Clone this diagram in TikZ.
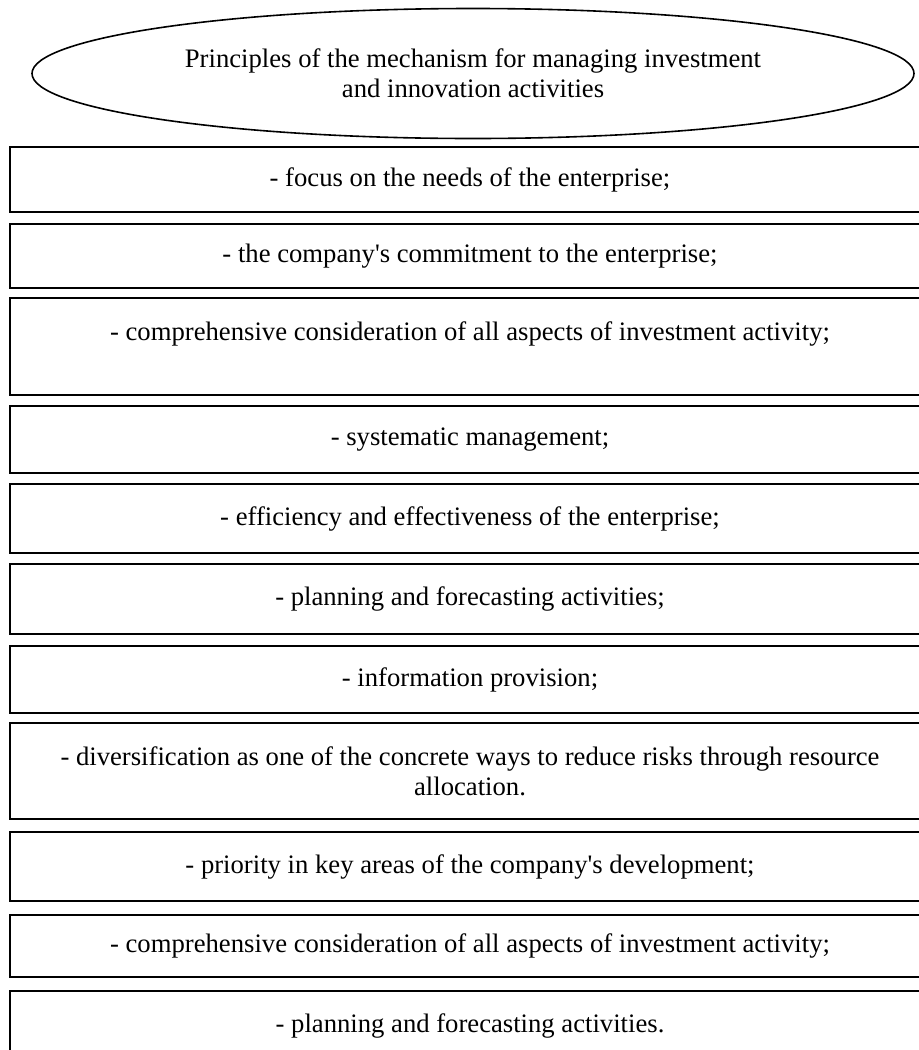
\documentclass[tikz,border=0pt]{standalone}
\usepackage{fontspec}
\setmainfont{Liberation Serif}
\usetikzlibrary{shapes.geometric}
\begin{document}
\begin{tikzpicture}[x=0.75pt,y=-0.75pt,
  txt/.style={font=\fontsize{20pt}{22.5pt}\selectfont, align=center},
  item/.style={txt, draw, line width=1.2pt, rectangle, inner sep=0pt,
    minimum width=690pt, minimum height=#1*0.75pt},
  head/.style={txt, draw, line width=1.2pt, ellipse, inner sep=0pt,
    minimum width=882*0.75pt, minimum height=130*0.75pt}]
\useasboundingbox (0,0) rectangle (919,1050);
\fill[white] (0,0) rectangle (919,1050);
\clip (0,0) rectangle (919,1050);

% heading
\node[head] (title) at (473,73.5)
  {Principles of the mechanism for managing investment\\and innovation activities};

% list of principles
\node[item=65] (p1)  at (470,179.5) {- focus on the needs of the enterprise;};
\node[item=64] (p2)  at (470,256)   {- the company\textquotesingle s commitment to the enterprise;};
\node[item=97] (p3)  at (470,346.5) {- comprehensive consideration of all aspects of investment activity;\\\mbox{}};
\node[item=67] (p4)  at (470,439.5) {- systematic management;};
\node[item=69] (p5)  at (470,518.5) {- efficiency and effectiveness of the enterprise;};
\node[item=70] (p6)  at (470,599)   {- planning and forecasting activities;};
\node[item=67] (p7)  at (470,679.5) {- information provision;};
\node[item=96] (p8)  at (470,771)   {- diversification as one of the concrete ways to reduce risks through resource\\allocation.};
\node[item=69] (p9)  at (470,866.5) {- priority in key areas of the company\textquotesingle s development;};
\node[item=62] (p10) at (470,946)   {- comprehensive consideration of all aspects of investment activity;};
\node[item=69] (p11) at (470,1025.5){- planning and forecasting activities.};
\end{tikzpicture}
\end{document}
